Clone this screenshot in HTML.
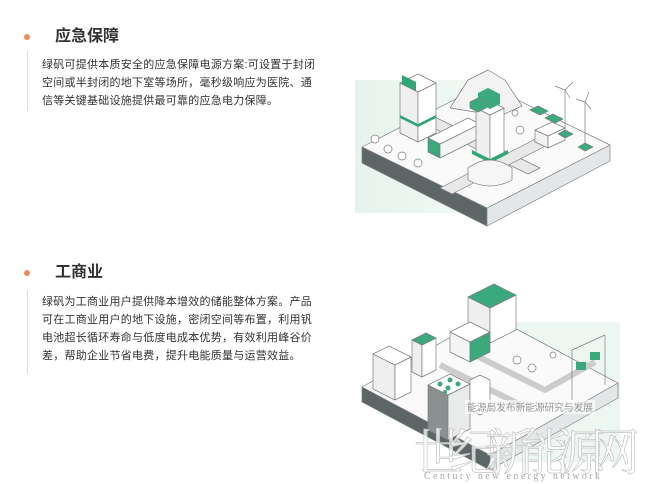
<!DOCTYPE html>
<html><head><meta charset="utf-8"><style>
body{margin:0;background:#fff;width:646px;height:484px;overflow:hidden;position:relative;font-family:"Liberation Sans","Noto Sans CJK SC",sans-serif;color:#333}
.dot{position:absolute;left:24px;width:6px;height:6px;border-radius:50%;background:#ef8a5c}
.vl{position:absolute;left:27px;width:1px;background:#ddd}
.t{position:absolute;left:55px;font-size:16px;font-weight:bold;color:#333;line-height:20px}
.p{position:absolute;left:42px;font-size:11px;letter-spacing:0.25px;color:#333}
svg{position:absolute;left:0;top:0}
</style></head><body>
<div class="dot" style="top:34px"></div>
<div class="vl" style="top:51px;height:60px"></div>
<div class="t" style="top:27px">应急保障</div>
<div class="p" style="top:56px;line-height:18px">绿矾可提供本质安全的应急保障电源方案:可设置于封闭<br>空间或半封闭的地下室等场所，毫秒级响应为医院、通<br>信等关键基础设施提供最可靠的应急电力保障。</div>

<div class="dot" style="top:270px"></div>
<div class="vl" style="top:290px;height:84px"></div>
<div class="t" style="top:263px">工商业</div>
<div class="p" style="top:293px;line-height:18px">绿矾为工商业用户提供降本增效的储能整体方案。产品<br>可在工商业用户的地下设施，密闭空间等布置，利用钒<br>电池超长循环寿命与低度电成本优势，有效利用峰谷价<br>差，帮助企业节省电费，提升电能质量与运营效益。</div>

<svg width="646" height="484" viewBox="0 0 646 484">
<defs>
<linearGradient id="g1" x1="0" x2="1"><stop offset="0" stop-color="#e6f3ec"/><stop offset="1" stop-color="#f3f9f5"/></linearGradient>
</defs>
<g stroke="#7a7f80" stroke-width="0.7" stroke-linejoin="round">
<rect x="355" y="80" width="135" height="133" fill="url(#g1)" stroke="none"/>
<polygon points="362,147 487,208 487,226 362,163" fill="#5d6567"/>
<polygon points="487,208 610,145 610,161 487,226" fill="#e4e7e7"/>
<polygon points="362,147 485,84 610,145 487,208" fill="#fafafa"/>
<polygon points="400,112 412,106 540,168 528,174" fill="#e8e8e8"/>
<polygon points="440,188 452,194 565,136 553,130" fill="#e8e8e8"/>
<polygon points="450,108 468,80 488,70 505,80 522,106 500,116" fill="#f3f3f3"/>
<path d="M482,104 q6,-14 12,0" fill="#ddd"/>
<polygon points="400,133 418,142 418,92 400,83" fill="#efefef"/>
<polygon points="418,142 436,133 436,83 418,92" fill="#fff"/>
<polygon points="418,92 436,83 418,74 400,83" fill="#fff"/>
<polygon points="402,84 416,91 416,82 402,75" fill="#2fa676" stroke="none"/>
<polygon points="400,115 418,124 436,115 436,118 418,127 400,118" fill="#2fa676" stroke="none"/>
<polygon points="428,152 440,158 440,144 428,138" fill="#3aa97d"/>
<polygon points="440,158 480,138 480,124 440,144" fill="#f4f4f4"/>
<polygon points="440,144 480,124 468,118 428,138" fill="#fff"/>
<polygon points="476,153 490,160 490,115 476,108" fill="#efefef"/>
<polygon points="490,160 504,153 504,108 490,115" fill="#fff"/>
<polygon points="490,115 504,108 490,101 476,108" fill="#fff"/>
<polygon points="478,103 490,109 500,104 500,94 488,88 478,93" fill="#3aa97d" stroke="none"/>
<polygon points="472,150 490,159 508,150 508,154 490,163 472,154" fill="#2fa676" stroke="none"/>
<path d="M468,168 q22,-16 44,0 v12 q-22,12 -44,0z" fill="#f6f6f6"/>
<polygon points="470,108 478,112 486,108 486,102 478,98 470,102" fill="#3aa97d"/>
<polygon points="535,142 548,148 548,136 535,130" fill="#f2f2f2"/>
<polygon points="548,148 565,140 565,128 548,136" fill="#fff"/>
<polygon points="548,136 565,128 552,122 535,130" fill="#fff"/>
<polygon points="530,110 540,115 548,111 538,106" fill="#3aa97d"/>
<polygon points="545,118 555,123 563,119 553,114" fill="#3aa97d"/>
<line x1="565" y1="90" x2="565" y2="133"/><line x1="585" y1="102" x2="585" y2="146"/>
<path d="M565,90 l-10,-4 M565,90 l8,-8 M565,90 l5,8 M585,102 l-9,-3 M585,102 l4,-10 M585,102 l6,7" />
<polygon points="558,134 565,138 573,134 565,130" fill="#3aa97d"/>
<polygon points="578,147 585,151 593,147 585,143" fill="#3aa97d"/>
<g fill="#fff"><circle cx="375" cy="139" r="4"/><circle cx="388" cy="149" r="4"/><circle cx="402" cy="156" r="4"/><circle cx="418" cy="163" r="4"/><circle cx="520" cy="130" r="4"/><circle cx="515" cy="113" r="3"/></g>

<rect x="470" y="322" width="150" height="140" fill="#eef6f1" stroke="none"/>
<polygon points="362,387 490,455 490,470 362,402" fill="#5d6567"/>
<polygon points="490,455 618,383 618,398 490,470" fill="#e4e7e7"/>
<polygon points="362,387 490,315 618,383 490,455" fill="#fafafa"/>
<path d="M455,345 l90,45 l50,-28 M440,365 l85,42" stroke="#ccc" stroke-width="6" fill="none"/>
<polygon points="468,332 490,343 490,308 468,297" fill="#efefef"/>
<polygon points="490,343 516,330 516,295 490,308" fill="#fff"/>
<polygon points="490,308 516,295 494,284 468,297" fill="#3aa97d"/>
<polygon points="373,389 395,400 395,365 373,354" fill="#efefef"/>
<polygon points="395,400 411,392 411,357 395,365" fill="#fff"/>
<polygon points="395,365 411,357 389,346 373,354" fill="#fff"/>
<polygon points="412,372 422,377 422,345 412,340" fill="#efefef"/>
<polygon points="422,377 436,370 436,338 422,345" fill="#fff"/>
<polygon points="422,345 436,338 426,333 412,340" fill="#3aa97d"/>
<polygon points="450,352 470,362 470,342 450,332" fill="#f4f4f4"/>
<polygon points="470,362 490,352 490,332 470,342" fill="#3aa97d"/>
<polygon points="470,342 490,332 470,322 450,332" fill="#fff"/>
<polygon points="428,430 448,440 448,395 428,385" fill="#8b9091"/>
<polygon points="448,440 470,429 470,384 448,395" fill="#e9eaea"/>
<polygon points="448,395 470,384 450,374 428,385" fill="#fff"/>
<g fill="#3aa97d" stroke="none"><circle cx="440" cy="384" r="2.5"/><circle cx="448" cy="388" r="2.5"/><circle cx="450" cy="380" r="2.5"/><circle cx="458" cy="384" r="2.5"/><circle cx="445" cy="392" r="2"/></g>
<polygon points="470,410 480,415 490,410 490,380 480,375 470,380" fill="#fff"/>
<path d="M572,400 v-50 M605,385 v-50 M572,350 l33,-15" fill="none"/>
<rect x="576" y="362" width="10" height="8" fill="#3aa97d" stroke="none"/>
<rect x="590" y="352" width="10" height="8" fill="#3aa97d" stroke="none"/>
<g fill="#fff"><circle cx="517" cy="360" r="4"/><circle cx="532" cy="368" r="4"/><circle cx="553" cy="355" r="3"/></g>
</g>
<rect x="465" y="400" width="130" height="14" fill="#fff" fill-opacity="0.6"/>
<text x="467" y="411" font-size="10" fill="#999" font-family="Liberation Sans,Noto Sans CJK SC,sans-serif" textLength="126">能源局发布新能源研究与发展</text>
<text x="414" y="470" font-size="50" fill="#fff" fill-opacity="0.75" stroke="#c4c4c4" stroke-width="0.7" font-family="Liberation Serif,Noto Serif CJK SC,serif" textLength="226">世纪新能源网</text>
<text x="424" y="479" font-size="10" fill="#aaa" font-family="Liberation Serif,serif" textLength="176">Century new energy network</text>
</svg>
</body></html>
